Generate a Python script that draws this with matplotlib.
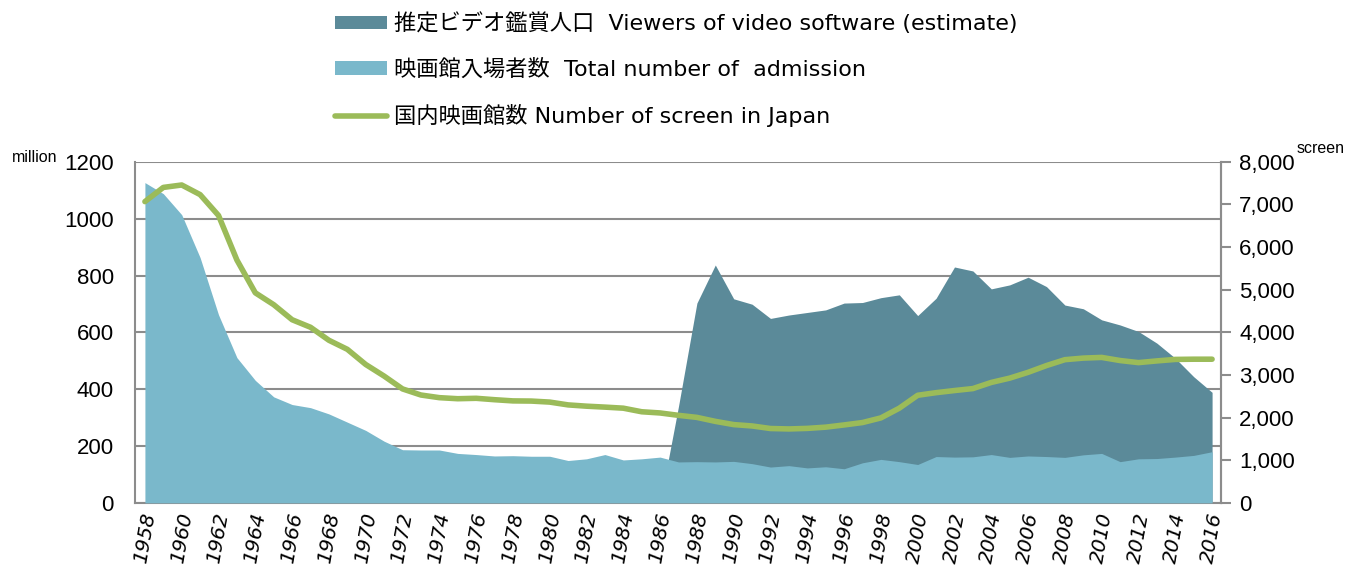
import numpy as np
import matplotlib
matplotlib.use('Agg')
import matplotlib.pyplot as plt
from matplotlib.ticker import FuncFormatter, MultipleLocator

plt.rcParams['font.family'] = ['Liberation Sans', 'Noto Sans CJK JP', 'DejaVu Sans']

years = list(range(1958, 2017))

# 映画館入場者数 (million)
admission = [1127, 1088, 1014, 863, 662, 511, 431, 373, 346, 335,
             313, 284, 255, 217, 187, 186, 186, 174, 170, 165,
             166, 164, 164, 149, 155, 170, 151, 155, 161, 144,
             145, 144, 146, 138, 126, 131, 123, 127, 120, 141,
             153, 145, 135, 163, 161, 162, 170, 160, 165, 163,
             160, 169, 174, 145, 155, 156, 161, 167, 180]

# 国内映画館数 (screens)
screens = [7067, 7400, 7457, 7231, 6742, 5696, 4927, 4649, 4296, 4119,
           3814, 3602, 3246, 2974, 2673, 2530, 2468, 2443, 2453, 2420,
           2392, 2388, 2364, 2298, 2268, 2246, 2221, 2137, 2109, 2053,
           2005, 1912, 1836, 1804, 1744, 1734, 1747, 1776, 1828, 1884,
           1993, 2221, 2524, 2585, 2635, 2681, 2825, 2926, 3062, 3221,
           3359, 3396, 3412, 3339, 3290, 3330, 3365, 3370, 3370]

# 推定ビデオ鑑賞人口 (million), from 1986
video_years = list(range(1986, 2017))
video = [0, 340, 703, 837, 718, 699, 649, 661, 670, 679,
         703, 705, 722, 732, 659, 720, 830, 816, 753, 767,
         794, 761, 696, 683, 644, 626, 603, 562, 509, 444, 389]

dark = '#5b8a99'
light = '#7ab8cb'
green = '#9bbb59'
gray = '#8c8c8c'

fig = plt.figure(figsize=(13.48, 5.78), dpi=100)
ax = fig.add_axes([0.1, 0.13, 0.806, 0.59])

a1 = ax.fill_between(video_years, 0, video, color=dark, lw=0, zorder=2,
                     label='推定ビデオ鑑賞人口  Viewers of video software (estimate)')
a2 = ax.fill_between(years, 0, admission, color=light, lw=0, zorder=3,
                     label='映画館入場者数  Total number of  admission')

ax.set_xlim(1957.45, 2016.5)
ax.set_ylim(0, 1200)
ax.yaxis.set_major_locator(MultipleLocator(200))
ax.grid(axis='y', color=gray, lw=1.5, zorder=1)
ax.set_axisbelow(True)
ax.set_xticks(years[::2])
ax.set_xticklabels([str(y) for y in years[::2]], rotation=80, fontsize=14.5,
                   style='italic', family=['DejaVu Sans'])
ax.tick_params(axis='x', length=0, pad=6)
ax.tick_params(axis='y', length=0, labelsize=16, pad=15)
ax.spines['top'].set_visible(False)
for s in ['left', 'bottom', 'right']:
    ax.spines[s].set_color(gray)
    ax.spines[s].set_linewidth(1.5)

ax2 = ax.twinx()
l1, = ax2.plot(years, screens, color=green, lw=4, zorder=5,
               solid_capstyle='round', solid_joinstyle='round',
               label='国内映画館数 Number of screen in Japan')
ax2.set_ylim(0, 8000)
ax2.yaxis.set_major_locator(MultipleLocator(1000))
ax2.yaxis.set_major_formatter(FuncFormatter(lambda v, p: f'{int(v):,}'))
ax2.tick_params(axis='y', length=7, width=1.5, color=gray, labelsize=16, pad=6)
for s in ['top', 'left', 'bottom']:
    ax2.spines[s].set_visible(False)
ax2.spines['right'].set_color(gray)
ax2.spines['right'].set_linewidth(1.5)

fig.text(0.009, 0.715, 'million', fontsize=11.5, va='bottom')
fig.text(0.962, 0.73, 'screen', fontsize=11.5, va='bottom')

fig.legend(handles=[a1, a2, l1], loc='upper left', bbox_to_anchor=(0.234, 1.013),
           frameon=False, prop={'family': ['DejaVu Sans', 'Noto Sans CJK JP'], 'size': 16},
           handlelength=2.3, handleheight=0.55, labelspacing=1.1, handletextpad=0.35)

fig.savefig('out.png', dpi=100)
